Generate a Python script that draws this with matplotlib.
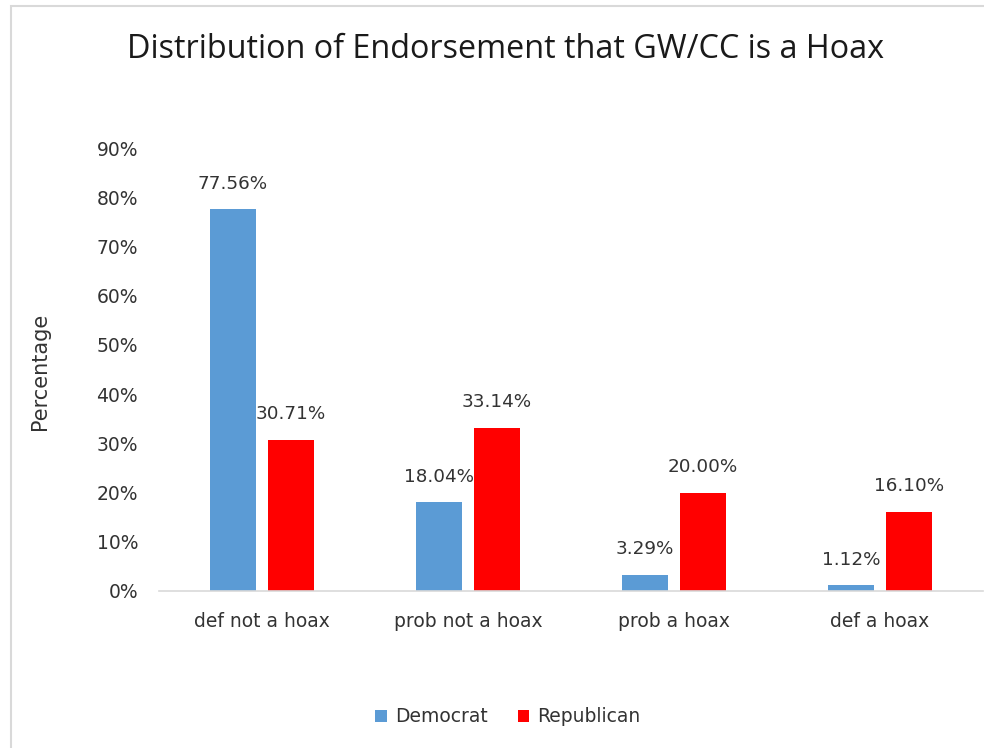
import matplotlib.pyplot as plt
from matplotlib.patches import Rectangle
import numpy as np

categories = ['def not a hoax', 'prob not a hoax', 'prob a hoax', 'def a hoax']
democrat = [77.56, 18.04, 3.29, 1.12]
republican = [30.71, 33.14, 20.00, 16.10]
yticks = [0, 10, 20, 30, 40, 50, 60, 70, 80, 90]

blue = '#5B9BD5'
red = '#FF0000'
txt = '#333333'

plt.rcParams['font.family'] = ['DejaVu Sans']

W, H = 984, 748
fig = plt.figure(figsize=(W / 100, H / 100), dpi=100)
ax = fig.add_axes([159 / W, 1 - 591 / H, (983 - 159) / W, 443 / H])

x = np.arange(len(categories))
bw = 0.223
off = 0.141
b1 = ax.bar(x - off, democrat, bw, color=blue, label='Democrat')
b2 = ax.bar(x + off, republican, bw, color=red, label='Republican')

# value labels centred above each bar
for bars, vals in ((b1, democrat), (b2, republican)):
    for rect, v in zip(bars, vals):
        ax.annotate(f'{v:.2f}%', (rect.get_x() + rect.get_width() / 2, v),
                    xytext=(0, 18.5), textcoords='offset points',
                    ha='center', va='center', fontsize=13.2, color=txt)

ax.set_xlim(-0.5, 3.5)
ax.set_ylim(0, 90)
ax.set_yticks(yticks)
ax.set_yticklabels([f'{t}%' for t in yticks])
ax.set_xticks(x)
ax.set_xticklabels(categories)
ax.tick_params(axis='y', length=0, pad=15, labelsize=13.5, labelcolor=txt)
ax.tick_params(axis='x', length=0, pad=15, labelsize=13.5, labelcolor=txt)
for s in ('top', 'right', 'left'):
    ax.spines[s].set_visible(False)
ax.spines['bottom'].set_color('#D9D9D9')
ax.spines['bottom'].set_linewidth(1.2)

fig.text(40 / W, 1 - 371 / H, 'Percentage', rotation=90, ha='center', va='center',
         fontsize=15, color=txt)
fig.text(506 / W, 1 - 49 / H, 'Distribution of Endorsement that GW/CC is a Hoax',
         ha='center', va='center', fontsize=23.3, color='#1a1a1a',
         family=['Open Sans', 'DejaVu Sans'])

fig.legend(loc='center', bbox_to_anchor=(508 / W, 1 - 717 / H), ncol=2, frameon=False,
           fontsize=13.5, handlelength=0.6, handleheight=0.6, handletextpad=0.45,
           columnspacing=1.6, labelcolor=txt)

# chart area frame
fig.add_artist(Rectangle((11 / W, -0.05), 1.2, 1.05 - 6 / H, transform=fig.transFigure,
                         fill=False, ec='#D9D9D9', lw=1.5))

fig.savefig('out.png', dpi=100)
